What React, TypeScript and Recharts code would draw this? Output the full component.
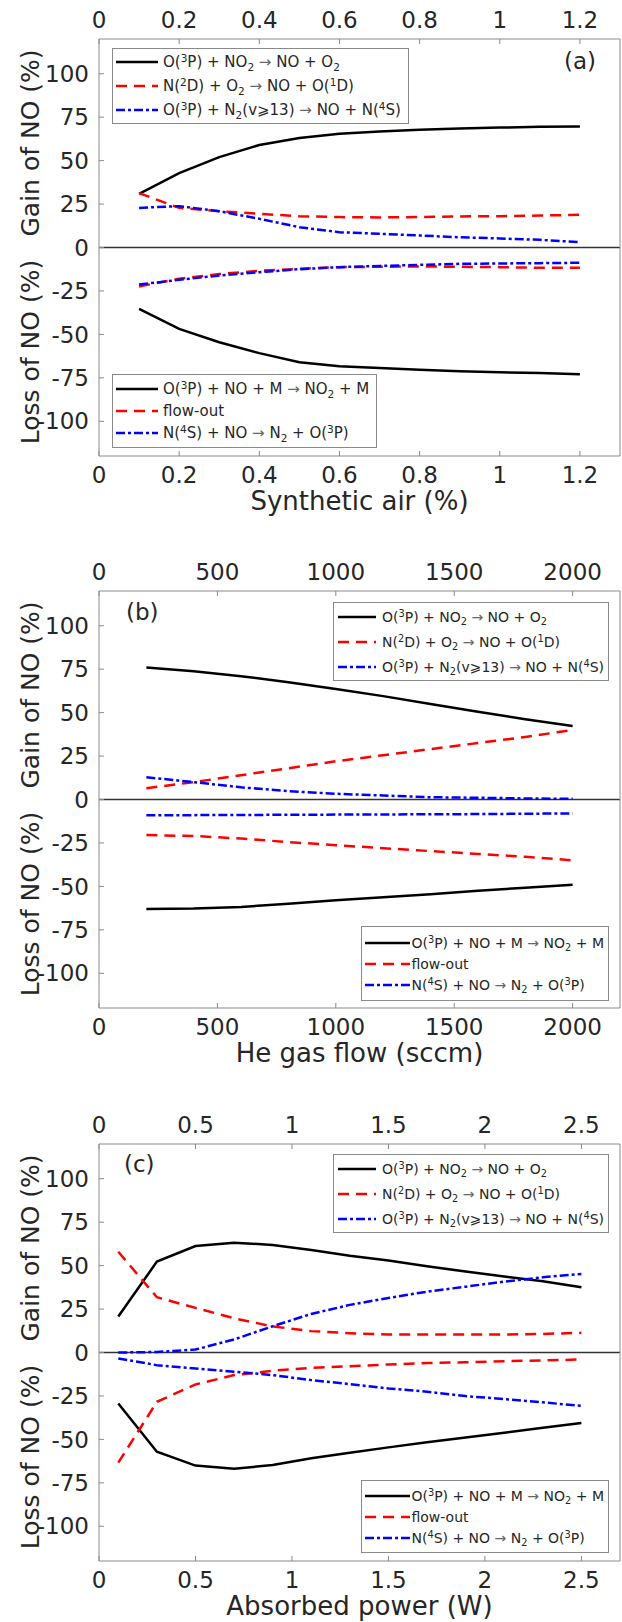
import React from "react";
import { LineChart, Line, XAxis, YAxis, ReferenceLine } from "recharts";

const TEXT = "#262626";
const FRAME = "#8a8a8a";

// (a) synthetic air admixture
const airX = [0.1, 0.2, 0.3, 0.4, 0.5, 0.6, 0.7, 0.8, 0.9, 1.0, 1.1, 1.2];
const airTicks = [0, 0.2, 0.4, 0.6, 0.8, 1, 1.2];
const airGainO3P = [30.9, 42.8, 52, 59, 63, 65.4, 66.8, 67.7, 68.5, 69, 69.5, 69.6];
const airGainN2D = [31.3, 22.8, 20.9, 19.4, 18, 17.5, 17.3, 17.5, 17.9, 18, 18.4, 18.8];
const airGainN2v = [22.8, 23.8, 20.9, 16.5, 11.7, 8.8, 7.9, 6.9, 5.9, 5.2, 4.4, 3.1];
const airLossO3P = [-35.3, -46.8, -54.5, -60.8, -66, -68.3, -69.4, -70.4, -71.2, -71.8, -72.3, -72.9];
const airLossFlow = [-22.4, -18, -15.3, -13.4, -12.3, -11.3, -11.1, -10.9, -11.1, -11.3, -11.7, -11.7];
const airLossN4S = [-21.3, -18.6, -16.1, -14.2, -12.5, -11.3, -10.6, -10, -9.4, -9.2, -9, -8.8];

// (b) He gas flow
const flowX = [200, 400, 600, 800, 1000, 1200, 1400, 1600, 1800, 2000];
const flowTicks = [0, 500, 1000, 1500, 2000];
const flowGainO3P = [76, 73.8, 71, 67.5, 63.6, 59.5, 55, 50.5, 46.2, 42.3];
const flowGainN2D = [6.5, 10, 14, 18, 22, 25.5, 29, 32.5, 36, 40];
const flowGainN2v = [12.8, 10, 7, 4.8, 3.3, 2.3, 1.3, 1, 0.6, 0.4];
const flowLossO3P = [-63, -62.8, -61.8, -60, -58, -56.2, -54.5, -52.5, -50.8, -49];
const flowLossFlow = [-20.5, -21, -22.5, -24.5, -26.3, -28, -29.7, -31.3, -33, -35];
const flowLossN4S = [-9, -9, -8.9, -8.8, -8.7, -8.6, -8.5, -8.4, -8.2, -8];

// (c) absorbed power
const powerX = [0.1, 0.3, 0.5, 0.7, 0.9, 1.1, 1.3, 1.5, 1.7, 1.9, 2.1, 2.3, 2.5];
const powerTicks = [0, 0.5, 1, 1.5, 2, 2.5];
const powerGainO3P = [20.7, 52.3, 61.3, 63.2, 61.9, 59, 55.7, 52.9, 49.6, 46.6, 43.7, 41, 37.5];
const powerGainN2D = [58, 31.8, 25.7, 19.7, 15, 12.3, 11.1, 10.3, 10.3, 10.3, 10.3, 10.7, 11.3];
const powerGainN2v = [0, 0.3, 1.7, 7.5, 15.1, 22.2, 27.4, 31.4, 35, 37.9, 40.8, 43.3, 45.2];
const powerLossO3P = [-29.3, -57.1, -65.1, -66.9, -64.8, -60.9, -57.7, -54.6, -51.7, -48.9, -46.2, -43.3, -40.6];
const powerLossFlow = [-63.4, -28.4, -18.4, -13, -10.5, -8.8, -7.9, -6.9, -6.1, -5.6, -5, -4.6, -4];
const powerLossN4S = [-3.4, -7.3, -9.2, -11.1, -13, -15.9, -18.2, -20.7, -22.6, -25.1, -26.8, -28.7, -30.7];

const yTicks = [-100, -75, -50, -25, 0, 25, 50, 75, 100];

const seriesStyle = [
  { color: "#000000", dash: undefined },
  { color: "#ff0000", dash: "11 7" },
  { color: "#0000ff", dash: "9 3 3 3" },
];

const Sup = ({ children }) => (
  <span style={{ fontSize: "70%", position: "relative", top: "-0.45em" }}>{children}</span>
);
const Sub = ({ children }) => (
  <span style={{ fontSize: "70%", position: "relative", top: "0.35em" }}>{children}</span>
);
const Arrow = () => <span style={{ color: "#666" }}>→</span>;

const gainNames = [
  <>O(<Sup>3</Sup>P) + NO<Sub>2</Sub> <Arrow /> NO + O<Sub>2</Sub></>,
  <>N(<Sup>2</Sup>D) + O<Sub>2</Sub> <Arrow /> NO + O(<Sup>1</Sup>D)</>,
  <>O(<Sup>3</Sup>P) + N<Sub>2</Sub>(v⩾13) <Arrow /> NO + N(<Sup>4</Sup>S)</>,
];
const lossNames = [
  <>O(<Sup>3</Sup>P) + NO + M <Arrow /> NO<Sub>2</Sub> + M</>,
  <>flow-out</>,
  <>N(<Sup>4</Sup>S) + NO <Arrow /> N<Sub>2</Sub> + O(<Sup>3</Sup>P)</>,
];

const W = 622;
const H = 540;
const PLOT_TOP = 39;
const PLOT_H = 417;
const PLOT_LEFT = 99;
const PLOT_RIGHT = 620;

function LegendBox({ names, pos }) {
  return (
    <div
      style={{
        position: "absolute",
        left: pos.left,
        right: pos.right,
        top: pos.top,
        border: `1px solid ${FRAME}`,
        background: "#fff",
        padding: `${pos.pad}px ${pos.padRight}px ${pos.pad}px ${pos.padLeft}px`,
        fontSize: pos.font,
        color: TEXT,
        whiteSpace: "nowrap",
      }}
    >
      {names.map((name, i) => (
        <div key={i} style={{ display: "flex", alignItems: "center", height: pos.rowH }}>
          <svg width={pos.sample} height={6} style={{ marginRight: pos.gap, flexShrink: 0 }}>
            <line
              x1={0}
              y1={3}
              x2={pos.sample}
              y2={3}
              stroke={seriesStyle[i].color}
              strokeWidth={2.5}
              strokeDasharray={seriesStyle[i].dash}
            />
          </svg>
          <span>{name}</span>
        </div>
      ))}
    </div>
  );
}

function Panel({ top, xs, domain, ticks, gain, loss, xLabel, tag, tagLeft, tagTop, gainPos, lossPos }) {
  const data = xs.map((x, i) => ({
    x,
    g0: gain[0][i],
    g1: gain[1][i],
    g2: gain[2][i],
    l0: loss[0][i],
    l1: loss[1][i],
    l2: loss[2][i],
  }));
  const tickStyle = { fill: TEXT, fontSize: 23 };
  const keys = ["g0", "g1", "g2", "l0", "l1", "l2"];

  return (
    <div style={{ position: "absolute", left: 0, top, width: W, height: H }}>
      <LineChart width={W} height={H} data={data} margin={{ top: 0, right: 0, bottom: 0, left: 0 }}>
        <XAxis
          xAxisId="top"
          orientation="top"
          dataKey="x"
          type="number"
          domain={domain}
          ticks={ticks}
          allowDataOverflow
          interval={0}
          height={PLOT_TOP}
          stroke={FRAME}
          tickSize={-5}
          tickMargin={16}
          tick={tickStyle}
        />
        <XAxis
          xAxisId="bottom"
          dataKey="x"
          type="number"
          domain={domain}
          ticks={ticks}
          allowDataOverflow
          interval={0}
          height={H - PLOT_TOP - PLOT_H}
          stroke={FRAME}
          tickSize={-5}
          tickMargin={16}
          tick={tickStyle}
          label={{ value: xLabel, position: "insideBottom", offset: 30, fill: TEXT, fontSize: 26 }}
        />
        <YAxis
          yAxisId="left"
          type="number"
          domain={[-120, 120]}
          ticks={yTicks}
          allowDataOverflow
          interval={0}
          width={PLOT_LEFT}
          stroke={FRAME}
          tickSize={-5}
          tickMargin={15}
          tick={tickStyle}
        />
        <YAxis
          yAxisId="right"
          orientation="right"
          type="number"
          domain={[-120, 120]}
          ticks={yTicks}
          allowDataOverflow
          interval={0}
          width={W - PLOT_RIGHT}
          stroke={FRAME}
          tickSize={-5}
          tick={false}
        />
        <ReferenceLine xAxisId="bottom" yAxisId="left" y={0} stroke="#333" strokeWidth={1.5} />
        {keys.map((k, i) => (
          <Line
            key={k}
            xAxisId="bottom"
            yAxisId="left"
            dataKey={k}
            type="linear"
            stroke={seriesStyle[i % 3].color}
            strokeDasharray={seriesStyle[i % 3].dash}
            strokeWidth={2.5}
            dot={false}
            activeDot={false}
            isAnimationActive={false}
          />
        ))}
      </LineChart>

      {[
        { text: "Gain of NO (%)", cy: PLOT_TOP + PLOT_H * 0.25 },
        { text: "Loss of NO (%)", cy: PLOT_TOP + PLOT_H * 0.75 },
      ].map((l) => (
        <div
          key={l.text}
          style={{
            position: "absolute",
            left: 30,
            top: l.cy,
            transform: "translate(-50%, -50%) rotate(-90deg)",
            whiteSpace: "nowrap",
            fontSize: 25,
            lineHeight: 1,
            color: TEXT,
          }}
        >
          {l.text}
        </div>
      ))}

      <div
        style={{
          position: "absolute",
          left: tagLeft,
          top: tagTop,
          transform: "translateY(-50%)",
          fontSize: 23,
          lineHeight: 1,
          color: TEXT,
        }}
      >
        {tag}
      </div>

      <LegendBox names={gainNames} pos={gainPos} />
      <LegendBox names={lossNames} pos={lossPos} />
    </div>
  );
}

export default function App() {
  return (
    <div
      style={{
        position: "absolute",
        left: 0,
        top: 0,
        width: W,
        height: 1622,
        background: "#fff",
        fontFamily: "'DejaVu Sans', sans-serif",
      }}
    >
      <Panel
        top={0}
        xs={airX}
        domain={[0, 1.3]}
        ticks={airTicks}
        gain={[airGainO3P, airGainN2D, airGainN2v]}
        loss={[airLossO3P, airLossFlow, airLossN4S]}
        xLabel="Synthetic air (%)"
        tag="(a)"
        tagLeft={564}
        tagTop={61}
        gainPos={{ left: 112, top: 48, pad: 1, padLeft: 3, padRight: 7, rowH: 24, sample: 42, gap: 5, font: 15 }}
        lossPos={{ left: 112, top: 374, pad: 3, padLeft: 3, padRight: 7, rowH: 22, sample: 42, gap: 5, font: 15 }}
      />
      <Panel
        top={552}
        xs={flowX}
        domain={[0, 2200]}
        ticks={flowTicks}
        gain={[flowGainO3P, flowGainN2D, flowGainN2v]}
        loss={[flowLossO3P, flowLossFlow, flowLossN4S]}
        xLabel="He gas flow (sccm)"
        tag="(b)"
        tagLeft={126}
        tagTop={60}
        gainPos={{ right: 13, top: 50, pad: 1, padLeft: 4, padRight: 4, rowH: 25, sample: 38, gap: 6, font: 14 }}
        lossPos={{ right: 13, top: 374, pad: 5, padLeft: 3, padRight: 4, rowH: 21, sample: 45, gap: 1, font: 14 }}
      />
      <Panel
        top={1105}
        xs={powerX}
        domain={[0, 2.7]}
        ticks={powerTicks}
        gain={[powerGainO3P, powerGainN2D, powerGainN2v]}
        loss={[powerLossO3P, powerLossFlow, powerLossN4S]}
        xLabel="Absorbed power (W)"
        tag="(c)"
        tagLeft={124}
        tagTop={59}
        gainPos={{ right: 13, top: 49, pad: 1, padLeft: 4, padRight: 4, rowH: 25, sample: 38, gap: 6, font: 14 }}
        lossPos={{ right: 13, top: 375, pad: 4, padLeft: 3, padRight: 4, rowH: 21, sample: 45, gap: 1, font: 14 }}
      />
    </div>
  );
}
